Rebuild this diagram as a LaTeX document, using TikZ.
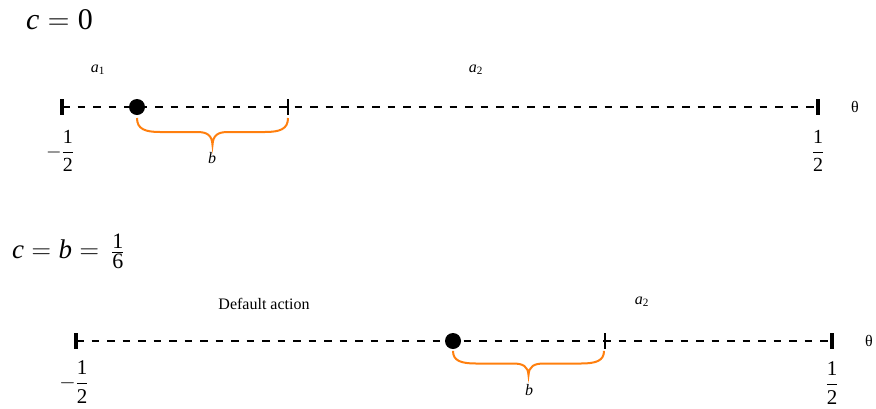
\RequirePackage{fix-cm}
\documentclass[tikz,border=0pt]{standalone}
\usepackage{amsmath}
\usepackage[no-math]{fontspec}
\setmainfont{Liberation Serif}
\newfontfamily\thetafont{Liberation Serif}
\usetikzlibrary{calc}
\newcommand{\vi}[1]{\textit{#1}}
\newcommand{\dg}[1]{\text{#1}}
\newcommand{\bigdg}[1]{\text{\fontsize{22}{22}\selectfont #1}}
\definecolor{braceorange}{RGB}{255,127,14}
\tikzset{
  axisline/.style={line width=2.4pt, dash pattern=on 7.5pt off 8pt},
  endtick/.style={line width=4pt},
  midtick/.style={line width=1.3pt},
  dotnode/.style={circle, fill=black, inner sep=0pt, minimum size=16pt},
  lbl/.style={font=\fontsize{16}{18}\selectfont, inner sep=0pt},
  fraclbl/.style={font=\fontsize{20}{22}\selectfont, inner sep=0pt},
  title/.style={font=\fontsize{30}{34}\selectfont, inner sep=0pt, anchor=west},
  bracestyle/.style={braceorange, line width=2pt},
  bracepic/.pic={
    \draw[bracestyle] (0,11) .. controls (0,22) and (8,25) .. (23,25)
      -- (60,25) .. controls (70,25) and (75,28) .. (75.5,38)
      .. controls (76,28) and (81,25) .. (91,25)
      -- (128,25) .. controls (143,25) and (151,22) .. (151,11);
  }
}
\begin{document}
\begin{tikzpicture}[x=1pt, y=-1pt]
\useasboundingbox (0,0) rectangle (876,408);

% ---------- c = 0 ----------
\node[title] (t1) at (26,20) {$\vi{c}=\dg{0}$};
\coordinate (l1) at (62,107);
\coordinate (r1) at (818,107);
\coordinate (k1) at (288,107);
\draw[axisline] (l1) -- (r1);
\draw[endtick] ($(l1)+(0,-8)$) -- ($(l1)+(0,8)$);
\draw[endtick] ($(r1)+(0,-8)$) -- ($(r1)+(0,8)$);
\draw[midtick] ($(k1)+(0,-8)$) -- ($(k1)+(0,8)$);
\node[dotnode] (d1) at (137,107) {};
\pic at (137,107) {bracepic};
\node[lbl] (b1) at (212,158) {\vi{b}};
\node[lbl] (a11) at (98,70) {$\vi{a}_{\dg{1}}$};
\node[lbl] (a21) at (476,70) {$\vi{a}_{\dg{2}}$};
\node[lbl] (th1) at (855,107) {\thetafont θ};
\node[fraclbl] (m1) at (60,151) {$-\dfrac{\dg{1}}{\dg{2}}$};
\node[fraclbl] (p1) at (818,151) {$\dfrac{\dg{1}}{\dg{2}}$};

% ---------- c = b = 1/6 ----------
\node[title, font=\fontsize{27}{30}\selectfont] (t2) at (12,251)
  {$\vi{c}=\vi{b}=\,\frac{\bigdg{1}}{\bigdg{6}}$};
\coordinate (l2) at (76,341);
\coordinate (r2) at (832,341);
\coordinate (k2) at (605,341);
\draw[axisline] (l2) -- (r2);
\draw[endtick] ($(l2)+(0,-8)$) -- ($(l2)+(0,8)$);
\draw[endtick] ($(r2)+(0,-8)$) -- ($(r2)+(0,8)$);
\draw[midtick] ($(k2)+(0,-8)$) -- ($(k2)+(0,8)$);
\node[dotnode] (d2) at (453,341) {};
\pic[yscale=0.9] at (453,341) {bracepic};
\node[lbl] (b2) at (529,390) {\vi{b}};
\node[lbl] (def) at (264,304) {Default action};
\node[lbl] (a22) at (642,302) {$\vi{a}_{\dg{2}}$};
\node[lbl] (th2) at (869,341) {\thetafont θ};
\node[fraclbl, font=\fontsize{21}{23}\selectfont] (m2) at (74,382) {$-\dfrac{\dg{1}}{\dg{2}}$};
\node[fraclbl, font=\fontsize{21}{23}\selectfont] (p2) at (832,383) {$\dfrac{\dg{1}}{\dg{2}}$};
\end{tikzpicture}
\end{document}
